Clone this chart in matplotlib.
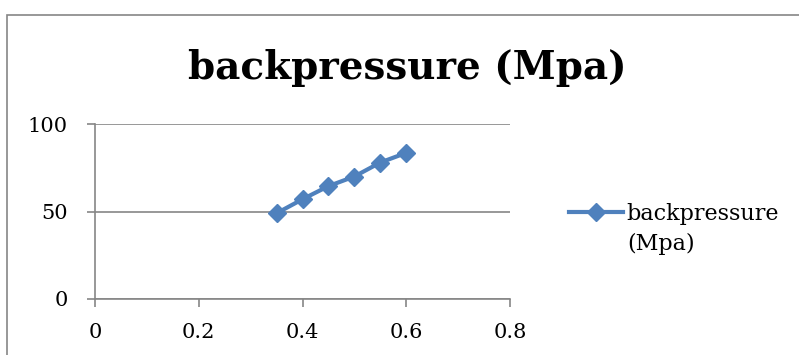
import matplotlib as mpl
mpl.use('Agg')
import matplotlib.pyplot as plt
from matplotlib.patches import Rectangle

# data
x_vals = [0.35, 0.40, 0.45, 0.50, 0.55, 0.60]
backpressure = [49, 57, 64.5, 70, 78, 83.5]
x_ticks = [0, 0.2, 0.4, 0.6, 0.8]
y_ticks = [0, 50, 100]

plt.rcParams['font.family'] = ['DejaVu Serif']
blue = '#4F81BD'
grey = '#868686'

fig = plt.figure(figsize=(7.99, 3.55), dpi=100)
ax = fig.add_axes([95/799, 56/355, 415/799, 175/355])

ax.plot(x_vals, backpressure, color=blue, lw=3, marker='D', markersize=9,
        label='backpressure', zorder=3, clip_on=False)

ax.set_xlim(0, 0.8)
ax.set_ylim(0, 100)
ax.set_xticks(x_ticks)
ax.set_xticklabels(['0', '0.2', '0.4', '0.6', '0.8'])
ax.set_yticks(y_ticks)
ax.yaxis.grid(True, color=grey, lw=1.2)
for s in ['top', 'right']:
    ax.spines[s].set_visible(False)
for s in ['left', 'bottom']:
    ax.spines[s].set_color(grey)
    ax.spines[s].set_linewidth(1.2)
ax.tick_params(colors=grey, labelcolor='black', labelsize=15, length=5.5, width=1.2)
ax.tick_params(axis='x', pad=12)
ax.tick_params(axis='y', pad=14)

fig.text(407/799, 1 - 68/355, 'backpressure (Mpa)', ha='center', va='center',
         fontsize=28, fontweight='bold')

# legend: handle sits on the first line, the unit wraps onto a second line
leg = fig.legend(loc='center left', bbox_to_anchor=(569/799, 1 - 214/355),
                 frameon=False, fontsize=16, handlelength=2.45, handletextpad=0.15,
                 borderaxespad=0, borderpad=0)
fig.canvas.draw()
bb = leg.get_texts()[0].get_window_extent()
fig.text(bb.x0 / fig.bbox.width, (bb.y0 - 8) / fig.bbox.height, '(Mpa)',
         ha='left', va='top', fontsize=16)

# chart area border, cut off at the right and bottom like the source
fig.add_artist(Rectangle((7/799, -0.1), 1.0, 1 - 15/355 + 0.1,
                         transform=fig.transFigure, fill=False,
                         edgecolor=grey, lw=1.2))

plt.savefig('out.png', dpi=100)
